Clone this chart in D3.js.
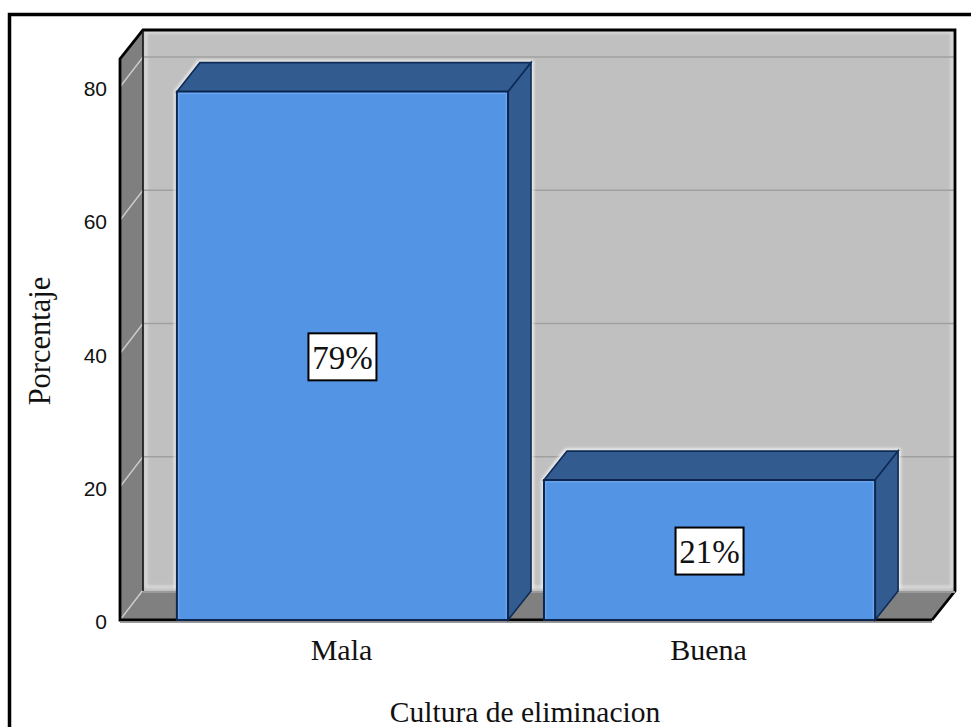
<!DOCTYPE html>
<html>
<head>
<meta charset="utf-8">
<script src="https://cdn.jsdelivr.net/npm/d3@7"></script>
<style>
html, body { margin: 0; padding: 0; background: #fff; overflow: hidden; }
svg { display: block; }
</style>
</head>
<body>
<div id="chart"></div>
<script>
var categories = ["Mala", "Buena"]
var percentages = [79.3, 21]
var barLabels = ["79%", "21%"]
var yTicks = [0, 20, 40, 60, 80]
var xTitle = "Cultura de eliminacion"
var yTitle = "Porcentaje"

var width = 971
var height = 727
var depthX = 23
var depthY = 29
var serif = "'Liberation Serif', serif"

var svg = d3.select("#chart").append("svg")
    .attr("width", width)
    .attr("height", height)

var defs = svg.append("defs")
defs.append("filter").attr("id", "soft")
    .attr("x", "-5%").attr("y", "-5%").attr("width", "110%").attr("height", "110%")
    .append("feGaussianBlur").attr("stdDeviation", 0.5)
defs.append("filter").attr("id", "halo")
    .attr("x", "-5%").attr("y", "-5%").attr("width", "110%").attr("height", "110%")
    .append("feGaussianBlur").attr("stdDeviation", 1.4)

var x = d3.scaleBand()
    .domain(categories)
    .range([120, 932])
    .paddingInner(0.098)
    .paddingOuter(0.155)

var y = d3.scaleLinear()
    .domain([0, 80])
    .range([620, 87])

var yTop = 59
var left = x.range()[0]
var right = x.range()[1]
var base = y(0)

function pts(a) { return a.map(function(p) { return p.join(",") }).join(" ") }

// outer frame, right and bottom edges run off the picture
svg.append("rect")
    .attr("x", 9.5).attr("y", 14.5)
    .attr("width", width + 40).attr("height", height + 40)
    .attr("fill", "#fff").attr("stroke", "#000").attr("stroke-width", 3.5)

var plot = svg.append("g").attr("filter", "url(#soft)")

// back wall
plot.append("rect")
    .attr("x", left + depthX).attr("y", yTop - depthY)
    .attr("width", right - left).attr("height", base - yTop)
    .attr("fill", "#c0c0c0")

// light edge of the back wall
plot.append("rect")
    .attr("x", left + depthX + 3).attr("y", yTop - depthY + 2)
    .attr("width", right - left - 6).attr("height", base - yTop - 6)
    .attr("fill", "none").attr("stroke", "#e8e8e8").attr("stroke-width", 2)
    .attr("filter", "url(#halo)")

// side wall and floor
plot.append("polygon")
    .attr("points", pts([[left, yTop], [left + depthX, yTop - depthY], [left + depthX, base - depthY], [left, base]]))
    .attr("fill", "#7f7f7f")
plot.append("polygon")
    .attr("points", pts([[left, base], [left + depthX, base - depthY], [right + depthX, base - depthY], [right, base]]))
    .attr("fill", "#808080")

// grid lines: back wall and the slant on the side wall
plot.selectAll(".grid").data(yTicks.slice(1)).enter().append("line")
    .attr("class", "grid")
    .attr("x1", left + depthX).attr("x2", right + depthX)
    .attr("y1", function(d) { return y(d) - depthY - 1 })
    .attr("y2", function(d) { return y(d) - depthY - 1 })
    .attr("stroke", "#a0a0a0").attr("stroke-width", 1.3)
plot.selectAll(".slant").data(yTicks).enter().append("line")
    .attr("class", "slant")
    .attr("x1", left).attr("x2", left + depthX)
    .attr("y1", function(d) { return y(d) })
    .attr("y2", function(d) { return y(d) - depthY - 1 })
    .attr("stroke", "#cfcfcf").attr("stroke-width", 1.3)

// wall outlines
plot.append("path")
    .attr("d", "M" + pts([[right, base], [left, base], [left, yTop], [left + depthX, yTop - depthY], [right + depthX, yTop - depthY], [right + depthX, base - depthY], [right, base]]))
    .attr("fill", "none").attr("stroke", "#000").attr("stroke-width", 2.8)
plot.append("line")
    .attr("x1", left + depthX).attr("x2", left + depthX)
    .attr("y1", yTop - depthY).attr("y2", base - depthY)
    .attr("stroke", "#111").attr("stroke-width", 1.6)
plot.append("line")
    .attr("x1", left + depthX).attr("x2", right + depthX)
    .attr("y1", base - depthY + 1).attr("y2", base - depthY + 1)
    .attr("stroke", "#9a9a9a").attr("stroke-width", 2)
plot.append("line")
    .attr("x1", left).attr("x2", right)
    .attr("y1", base + 2.2).attr("y2", base + 2.2)
    .attr("stroke", "#9a9a9a").attr("stroke-width", 1.5)

// bars
var bars = plot.selectAll(".bar").data(categories).enter().append("g").attr("class", "bar")

function front(i) {
    var c = categories[i]
    return { l: x(c), r: x(c) + x.bandwidth(), t: y(percentages[i]) }
}

// white glow behind each bar, only over the back wall
bars.append("path")
    .attr("d", function(d, i) {
        var f = front(i)
        return "M" + pts([[f.l - 1, base - depthY - 2], [f.l - 1, f.t], [f.l + depthX - 1, f.t - depthY - 1], [f.r + depthX + 1, f.t - depthY - 1], [f.r + depthX + 1, base - depthY - 2]])
    })
    .attr("fill", "none").attr("stroke", "#f6f6f6").attr("stroke-width", 3)
    .attr("filter", "url(#halo)")

bars.append("polygon")
    .attr("points", function(d, i) {
        var f = front(i)
        return pts([[f.l, f.t], [f.l + depthX, f.t - depthY], [f.r + depthX, f.t - depthY], [f.r, f.t]])
    })
    .attr("fill", "#335b90").attr("stroke", "#0f2c57").attr("stroke-width", 1.6)

bars.append("polygon")
    .attr("points", function(d, i) {
        var f = front(i)
        return pts([[f.r, f.t], [f.r + depthX, f.t - depthY], [f.r + depthX, base - depthY], [f.r, base]])
    })
    .attr("fill", "#335b90").attr("stroke", "#0f2c57").attr("stroke-width", 1.6)

bars.append("rect")
    .attr("x", function(d, i) { return front(i).l })
    .attr("y", function(d, i) { return front(i).t })
    .attr("width", x.bandwidth())
    .attr("height", function(d, i) { return base - front(i).t })
    .attr("fill", "#5394e4").attr("stroke", "#0c2650").attr("stroke-width", 2)

// lighter inner edge of the front face
bars.append("path")
    .attr("d", function(d, i) {
        var f = front(i)
        return "M" + (f.l + 1.8) + "," + (base - 1.5) + "V" + (f.t + 1.8) + "H" + (f.r - 1.8) + "V" + (base - 1.5)
    })
    .attr("fill", "none").attr("stroke", "#6ea8f0").attr("stroke-width", 1.2)

// value labels
var labels = svg.selectAll(".value").data(categories).enter().append("g")
    .attr("class", "value")
    .attr("transform", function(d, i) {
        var f = front(i)
        return "translate(" + ((f.l + f.r) / 2) + "," + ((f.t + base) / 2 + 1) + ")"
    })
labels.append("rect")
    .attr("x", -34).attr("y", -23.5).attr("width", 68).attr("height", 47)
    .attr("fill", "#fff").attr("stroke", "#000").attr("stroke-width", 2)
labels.append("text")
    .text(function(d, i) { return barLabels[i] })
    .attr("text-anchor", "middle")
    .attr("y", 12)
    .attr("font-family", serif)
    .attr("font-size", 33)
    .attr("fill", "#111")

// axes
var yAxis = svg.append("g")
    .attr("transform", "translate(" + left + ",2)")
    .call(d3.axisLeft(y).tickValues(yTicks).tickSize(0).tickPadding(13))
yAxis.select(".domain").remove()
yAxis.selectAll("text")
    .attr("font-family", "'Liberation Sans', sans-serif")
    .attr("font-size", 21)
    .attr("fill", "#111")

var xAxis = svg.append("g")
    .attr("transform", "translate(-1," + base + ")")
    .call(d3.axisBottom(x).tickSize(0).tickPadding(19))
xAxis.select(".domain").remove()
xAxis.selectAll("text")
    .attr("font-family", serif)
    .attr("font-size", 30)
    .attr("fill", "#111")

svg.append("text")
    .text(xTitle)
    .attr("x", 525).attr("y", 722)
    .attr("text-anchor", "middle")
    .attr("font-family", serif)
    .attr("font-size", 29.5)
    .attr("fill", "#111")

svg.append("text")
    .text(yTitle)
    .attr("transform", "translate(50,341) rotate(-90)")
    .attr("text-anchor", "middle")
    .attr("font-family", serif)
    .attr("font-size", 30.5)
    .attr("fill", "#111")
</script>
</body>
</html>
